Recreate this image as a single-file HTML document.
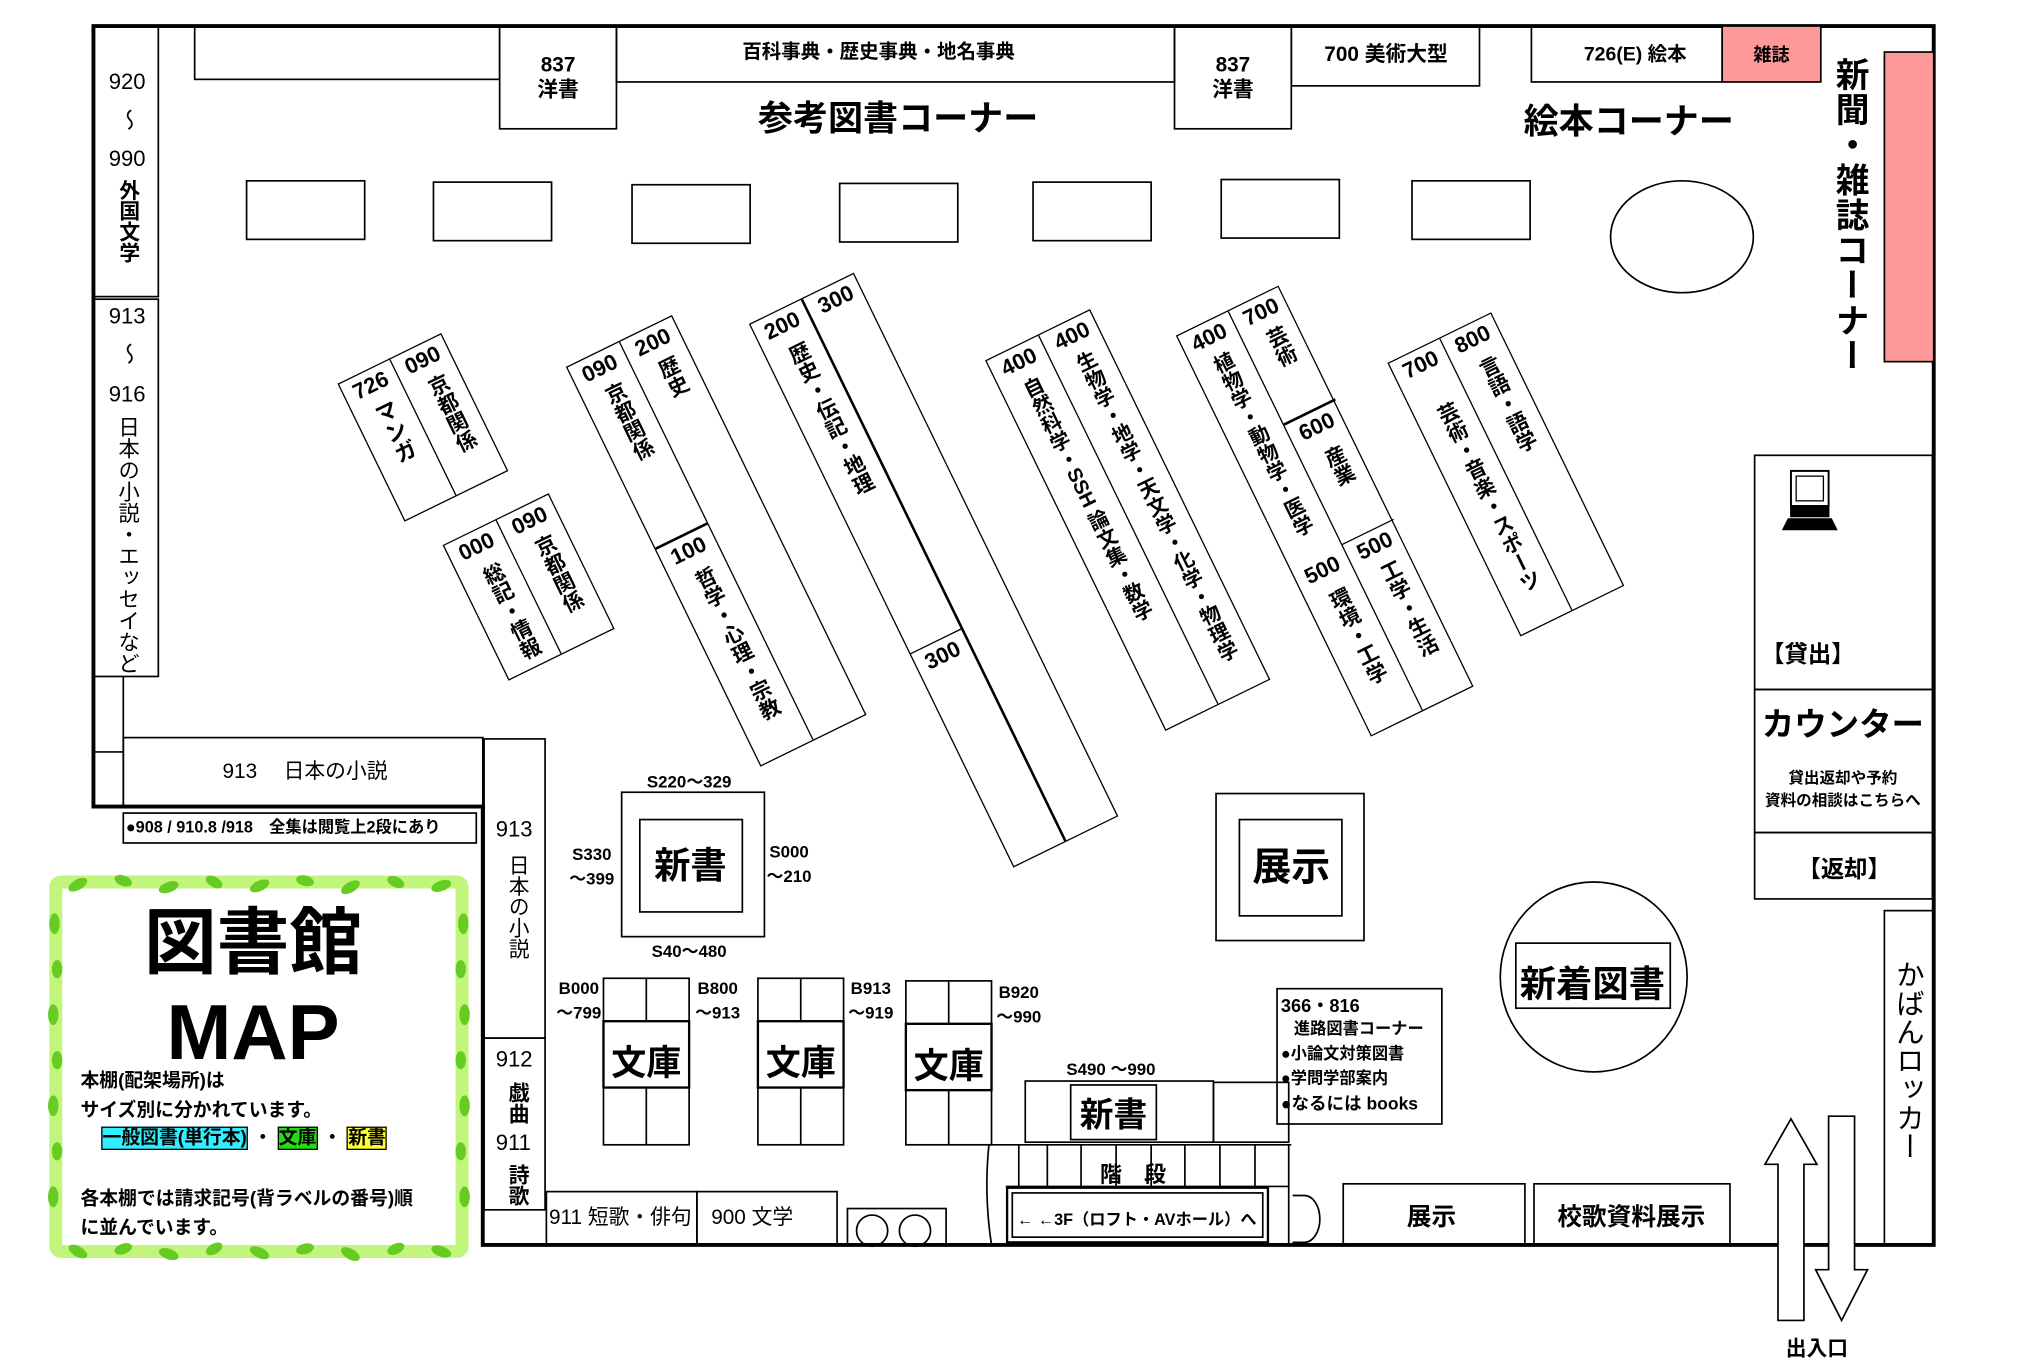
<!DOCTYPE html>
<html><head><meta charset="utf-8">
<style>
html,body{margin:0;padding:0;background:#fff;width:2034px;height:1361px;overflow:hidden}
#c{position:absolute;left:0;top:0;width:1568px;height:1047px;transform:scale(1.2978,1.3009);transform-origin:0 0;font-family:"Liberation Sans","Noto Sans CJK JP",sans-serif;color:#000}
.t{position:absolute;white-space:nowrap;font-weight:bold;line-height:1}
.c{transform:translate(-50%,-50%)}
.v{writing-mode:vertical-rl}
.sh{position:absolute;transform-origin:0 0;transform:rotate(-26deg);border:1.3px solid #000;box-sizing:border-box;background:#fff}
.col{position:absolute;top:0;height:100%;box-sizing:border-box}
.num{position:absolute;top:3px;left:0;width:100%;text-align:center;font-size:17px;font-weight:bold;line-height:1}
.vt{position:absolute;left:50%;transform:translateX(-50%);writing-mode:vertical-rl;font-size:16px;font-weight:bold;line-height:1;white-space:nowrap}
svg{position:absolute;left:0;top:0}
</style></head><body>
<div id="c">
<svg width="1560" height="1044" viewBox="0 0 1560 1044">
<g fill="none" stroke="#000" stroke-width="1.3">
<rect x="43" y="678" width="313" height="284" stroke="#c2f57c" stroke-width="10" rx="4"/>
</g>
<g fill="#66cc22">
<ellipse cx="60" cy="680" rx="8" ry="4" transform="rotate(-30 60 680)"/><ellipse cx="95" cy="677" rx="7" ry="4" transform="rotate(20 95 677)"/><ellipse cx="130" cy="682" rx="8" ry="4" transform="rotate(-20 130 682)"/><ellipse cx="165" cy="678" rx="7" ry="4" transform="rotate(30 165 678)"/><ellipse cx="200" cy="681" rx="8" ry="4" transform="rotate(-25 200 681)"/><ellipse cx="235" cy="677" rx="7" ry="4" transform="rotate(15 235 677)"/><ellipse cx="270" cy="682" rx="8" ry="4" transform="rotate(-30 270 682)"/><ellipse cx="305" cy="678" rx="7" ry="4" transform="rotate(25 305 678)"/><ellipse cx="340" cy="681" rx="8" ry="4" transform="rotate(-20 340 681)"/>
<ellipse cx="60" cy="962" rx="8" ry="4" transform="rotate(30 60 962)"/><ellipse cx="95" cy="960" rx="7" ry="4" transform="rotate(-20 95 960)"/><ellipse cx="130" cy="964" rx="8" ry="4" transform="rotate(20 130 964)"/><ellipse cx="165" cy="960" rx="7" ry="4" transform="rotate(-30 165 960)"/><ellipse cx="200" cy="963" rx="8" ry="4" transform="rotate(25 200 963)"/><ellipse cx="235" cy="960" rx="7" ry="4" transform="rotate(-15 235 960)"/><ellipse cx="270" cy="964" rx="8" ry="4" transform="rotate(30 270 964)"/><ellipse cx="305" cy="960" rx="7" ry="4" transform="rotate(-25 305 960)"/><ellipse cx="340" cy="962" rx="8" ry="4" transform="rotate(20 340 962)"/>
<ellipse cx="42" cy="710" rx="4" ry="8"/><ellipse cx="44" cy="745" rx="4" ry="7"/><ellipse cx="41" cy="780" rx="4" ry="8"/><ellipse cx="44" cy="815" rx="4" ry="7"/><ellipse cx="41" cy="850" rx="4" ry="8"/><ellipse cx="44" cy="885" rx="4" ry="7"/><ellipse cx="41" cy="920" rx="4" ry="8"/>
<ellipse cx="357" cy="710" rx="4" ry="8"/><ellipse cx="355" cy="745" rx="4" ry="7"/><ellipse cx="358" cy="780" rx="4" ry="8"/><ellipse cx="355" cy="815" rx="4" ry="7"/><ellipse cx="358" cy="850" rx="4" ry="8"/><ellipse cx="355" cy="885" rx="4" ry="7"/><ellipse cx="358" cy="920" rx="4" ry="8"/>
</g>
<g fill="none" stroke="#000" stroke-width="1.3">
<path d="M72,20 H1490 V957 H372 V620 H72 Z" stroke-width="3"/>
<rect x="72" y="20" width="50" height="208"/>
<rect x="72" y="230" width="50" height="290"/>
<line x1="95" y1="520" x2="95" y2="620"/>
<line x1="72" y1="578" x2="95" y2="578"/>
<rect x="95" y="567" width="277" height="53"/>
<rect x="95" y="625" width="272" height="23"/>
<rect x="373" y="568" width="47" height="230"/>
<rect x="373" y="798" width="47" height="132"/>
<rect x="421" y="916" width="116" height="41"/>
<rect x="537" y="916" width="108" height="41"/>
<rect x="653" y="929" width="76" height="28"/>
<circle cx="672" cy="946" r="12"/><circle cx="705" cy="946" r="12"/>
<rect x="150" y="20" width="235" height="41"/>
<rect x="385" y="20" width="90" height="79"/>
<rect x="475" y="20" width="430" height="43"/>
<rect x="905" y="20" width="90" height="79"/>
<rect x="995" y="20" width="145" height="46"/>
<rect x="1180" y="20" width="147" height="43"/>
<rect x="1327" y="20" width="76" height="43" fill="#ff9999"/>
<rect x="1452" y="40" width="38" height="238" fill="#ff9999"/>
<rect x="190" y="139" width="91" height="45"/>
<rect x="334" y="140" width="91" height="45"/>
<rect x="487" y="142" width="91" height="45"/>
<rect x="647" y="141" width="91" height="45"/>
<rect x="796" y="140" width="91" height="45"/>
<rect x="941" y="138" width="91" height="45"/>
<rect x="1088" y="139" width="91" height="45"/>
<ellipse cx="1296" cy="182" rx="55" ry="43"/>
<rect x="1352" y="350" width="137" height="180"/>
<rect x="1352" y="530" width="137" height="110"/>
<rect x="1352" y="640" width="137" height="51"/>
<rect x="1452" y="700" width="38" height="257"/>
<rect x="1380" y="362" width="29" height="27" stroke-width="1.5"/>
<rect x="1384" y="366" width="21" height="19" stroke-width="1"/>
<rect x="1380" y="389" width="29" height="8" fill="#000"/>
<path d="M1378,399 H1411 L1415,407 H1374 Z" fill="#000"/>
<ellipse cx="1228" cy="751" rx="72" ry="73"/>
<rect x="1168" y="725" width="119" height="50"/>
<rect x="937" y="610" width="114" height="113"/>
<rect x="955" y="630" width="79" height="74"/>
<rect x="984" y="760" width="127" height="104"/>
<rect x="479" y="609" width="110" height="111"/>
<rect x="493" y="630" width="79" height="71"/>
<rect x="465" y="752" width="66" height="128"/><line x1="498" y1="752" x2="498" y2="785"/><line x1="498" y1="836" x2="498" y2="880"/><rect x="465" y="785" width="66" height="51" stroke-width="1.8"/>
<rect x="584" y="752" width="66" height="128"/><line x1="617" y1="752" x2="617" y2="785"/><line x1="617" y1="836" x2="617" y2="880"/><rect x="584" y="785" width="66" height="51" stroke-width="1.8"/>
<rect x="698" y="754" width="66" height="126"/><line x1="731" y1="754" x2="731" y2="787"/><line x1="731" y1="838" x2="731" y2="880"/><rect x="698" y="787" width="66" height="51" stroke-width="1.8"/>
<rect x="790" y="831" width="145" height="47"/>
<rect x="825" y="834" width="66" height="42"/>
<rect x="935" y="832" width="58" height="46"/>
<path d="M760,880 H995"/>
<path d="M762,880 Q758,918 764,957"/>
<line x1="785" y1="880" x2="785" y2="912"/><line x1="807" y1="880" x2="807" y2="912"/><line x1="833" y1="880" x2="833" y2="912"/><line x1="860" y1="880" x2="860" y2="912"/><line x1="887" y1="880" x2="887" y2="912"/><line x1="913" y1="880" x2="913" y2="912"/><line x1="940" y1="880" x2="940" y2="912"/><line x1="967" y1="880" x2="967" y2="912"/><line x1="993" y1="880" x2="993" y2="957"/>
<line x1="775" y1="912" x2="993" y2="912"/>
<rect x="776" y="913" width="201" height="42" stroke-width="1.8"/>
<rect x="780" y="917" width="193" height="34"/>
<path d="M996,919 H1005 A12,18 0 0 1 1005,955 H996"/>
<rect x="1035" y="910" width="140" height="47"/>
<rect x="1182" y="910" width="151" height="47"/>
<path d="M1370,1015 V895 H1360 L1380,860 L1400,895 H1390 V1015 Z" fill="#fff"/>
<path d="M1409,858 H1429 V976 H1439 L1419,1015 L1399,976 H1409 Z" fill="#fff"/>
</g>
</svg>

<div class="t c" style="left:430px;top:60px;font-size:16px;line-height:19px;text-align:center">837<br>洋書</div>
<div class="t c" style="left:950px;top:60px;font-size:16px;line-height:19px;text-align:center">837<br>洋書</div>
<div class="t c" style="left:677px;top:40px;font-size:15px">百科事典・歴史事典・地名事典</div>
<div class="t c" style="left:1068px;top:43px;font-size:16px">700 美術大型</div>
<div class="t c" style="left:1260px;top:42px;font-size:15px">726(E) 絵本</div>
<div class="t c" style="left:1365px;top:42px;font-size:14px">雑誌</div>
<div class="t c" style="left:692px;top:92px;font-size:27px">参考図書コーナー</div>
<div class="t c" style="left:1255px;top:94px;font-size:27px">絵本コーナー</div>
<div class="t v" style="left:1413px;top:44px;font-size:26px;letter-spacing:1px">新聞・雑誌コーナー</div>

<div class="t c" style="left:98px;top:63px;font-size:17px;font-weight:normal">920</div>
<div class="t c v" style="left:98px;top:92px;font-size:17px;font-weight:normal">～</div>
<div class="t c" style="left:98px;top:122px;font-size:17px;font-weight:normal">990</div>
<div class="t v" style="left:89px;top:138px;font-size:16px;line-height:1">外国文学</div>
<div class="t c" style="left:98px;top:243px;font-size:17px;font-weight:normal">913</div>
<div class="t c v" style="left:98px;top:272px;font-size:17px;font-weight:normal">～</div>
<div class="t c" style="left:98px;top:303px;font-size:17px;font-weight:normal">916</div>
<div class="t v" style="left:89px;top:320px;font-size:16.5px;font-weight:normal">日本の小説・エッセイなど</div>
<div class="t c" style="left:235px;top:594px;font-size:16px;font-weight:normal">913　 日本の小説</div>
<div class="t" style="left:97px;top:630px;font-size:12.5px">●908 / 910.8 /918　全集は閲覧上2段にあり</div>
<div class="t" style="left:382px;top:629px;font-size:17px;font-weight:normal">913</div>
<div class="t v" style="left:389px;top:657px;font-size:16px;font-weight:normal">日本の小説</div>
<div class="t" style="left:382px;top:806px;font-size:17px;font-weight:normal">912</div>
<div class="t v" style="left:389px;top:832px;font-size:16px">戯曲</div>
<div class="t" style="left:382px;top:870px;font-size:17px;font-weight:normal">911</div>
<div class="t v" style="left:389px;top:895px;font-size:16px">詩歌</div>
<div class="t" style="left:423px;top:929px;font-size:16px;font-weight:normal">911 短歌・俳句</div>
<div class="t" style="left:548px;top:929px;font-size:16px;font-weight:normal">900 文学</div>

<div class="t c" style="left:195px;top:725px;font-size:56px">図書館</div>
<div class="t c" style="left:195px;top:794px;font-size:60px">MAP</div>
<div class="t" style="left:62px;top:824px;font-size:14.5px">本棚(配架場所)は</div>
<div class="t" style="left:62px;top:847px;font-size:14.5px">サイズ別に分かれています。</div>
<div class="t" style="left:78px;top:868px;font-size:14.5px"><span style="background:#33eeff;border:1px solid #000">一般図書(単行本)</span> ・ <span style="background:#22dd11;border:1px solid #000">文庫</span> ・ <span style="background:#ffff33;border:1px solid #000">新書</span></div>
<div class="t" style="left:62px;top:915px;font-size:14.5px">各本棚では請求記号(背ラベルの番号)順</div>
<div class="t" style="left:62px;top:937px;font-size:14.5px">に並んでいます。</div>

<div class="t c" style="left:531px;top:601px;font-size:13px">S220～329</div>
<div class="t c" style="left:456px;top:666px;font-size:13px;line-height:19px;text-align:center">S330<br>～399</div>
<div class="t c" style="left:608px;top:664px;font-size:13px;line-height:19px;text-align:center">S000<br>～210</div>
<div class="t c" style="left:531px;top:731px;font-size:13px">S40～480</div>
<div class="t c" style="left:532px;top:666px;font-size:28px">新書</div>
<div class="t c" style="left:446px;top:769px;font-size:13px;line-height:19px;text-align:center">B000<br>～799</div>
<div class="t c" style="left:553px;top:769px;font-size:13px;line-height:19px;text-align:center">B800<br>～913</div>
<div class="t c" style="left:671px;top:769px;font-size:13px;line-height:19px;text-align:center">B913<br>～919</div>
<div class="t c" style="left:785px;top:772px;font-size:13px;line-height:19px;text-align:center">B920<br>～990</div>
<div class="t c" style="left:498px;top:818px;font-size:27px">文庫</div>
<div class="t c" style="left:617px;top:818px;font-size:27px">文庫</div>
<div class="t c" style="left:731px;top:820px;font-size:27px">文庫</div>
<div class="t c" style="left:856px;top:822px;font-size:13px">S490 ～990</div>
<div class="t c" style="left:858px;top:857px;font-size:26px">新書</div>
<div class="t c" style="left:873px;top:903px;font-size:17px">階　段</div>
<div class="t c" style="left:876px;top:938px;font-size:12.5px">← ←3F（ロフト・AVホール）へ</div>
<div class="t c" style="left:1103px;top:936px;font-size:19px">展示</div>
<div class="t c" style="left:1257px;top:936px;font-size:19px">校歌資料展示</div>
<div class="t c" style="left:995px;top:668px;font-size:30px">展示</div>
<div class="t c" style="left:1227px;top:757px;font-size:28px">新着図書</div>
<div class="t" style="left:987px;top:766px;font-size:14px">366・816</div>
<div class="t" style="left:997px;top:785px;font-size:12.5px">進路図書コーナー</div>
<div class="t" style="left:987px;top:804px;font-size:12.5px">●小論文対策図書</div>
<div class="t" style="left:987px;top:823px;font-size:12.5px">●学問学部案内</div>
<div class="t" style="left:987px;top:842px;font-size:13.5px">●なるには books</div>
<div class="t c" style="left:1393px;top:503px;font-size:18px">【貸出】</div>
<div class="t c" style="left:1420px;top:558px;font-size:25px">カウンター</div>
<div class="t c" style="left:1420px;top:598px;font-size:12px">貸出返却や予約</div>
<div class="t c" style="left:1420px;top:615px;font-size:12px">資料の相談はこちらへ</div>
<div class="t c" style="left:1421px;top:668px;font-size:18px">【返却】</div>
<div class="t v" style="left:1459px;top:738px;font-size:22px;font-weight:normal">かばんロッカー</div>
<div class="t c" style="left:1400px;top:1038px;font-size:16px">出入口</div>

<div class="sh" style="left:260px;top:295px;width:89px;height:118px">
 <div class="col" style="left:0;width:44px;border-right:1.3px solid #000"><div class="num">726</div><div class="vt" style="top:26px;font-size:17px">マンガ</div></div>
 <div class="col" style="left:44px;width:44px"><div class="num">090</div><div class="vt" style="top:26px">京都関係</div></div>
</div>
<div class="sh" style="left:341px;top:419px;width:91px;height:116px">
 <div class="col" style="left:0;width:45px;border-right:1.3px solid #000"><div class="num">000</div><div class="vt" style="top:28px">総記・情報</div></div>
 <div class="col" style="left:45px;width:45px"><div class="num">090</div><div class="vt" style="top:26px">京都関係</div></div>
</div>
<div class="sh" style="left:436px;top:282px;width:91px;height:342px">
 <div class="col" style="left:0;width:45px;border-right:1.3px solid #000">
  <div style="position:absolute;left:0;top:0;width:100%;height:156px;border-bottom:2.5px double #000;box-sizing:border-box"><div class="num">090</div><div class="vt" style="top:26px">京都関係</div></div>
  <div style="position:absolute;left:0;top:156px;width:100%;height:186px"><div class="num">100</div><div class="vt" style="top:28px">哲学・心理・宗教</div></div>
 </div>
 <div class="col" style="left:45px;width:45px"><div class="num">200</div><div class="vt" style="top:26px">歴史</div></div>
</div>
<div class="sh" style="left:577px;top:249px;width:90px;height:465px">
 <div class="col" style="left:0;width:45px;border-right:2.2px solid #000">
  <div style="position:absolute;left:0;top:0;width:100%;height:282px;border-bottom:1.3px solid #000;box-sizing:border-box"><div class="num">200</div><div class="vt" style="top:28px">歴史・伝記・地理</div></div>
  <div style="position:absolute;left:0;top:282px;width:100%"><div class="num">300</div></div>
 </div>
 <div class="col" style="left:45px;width:45px"><div class="num">300</div></div>
</div>
<div class="sh" style="left:759px;top:277px;width:90px;height:317px">
 <div class="col" style="left:0;width:45px;border-right:1.3px solid #000"><div class="num">400</div><div class="vt" style="top:26px;font-size:15.5px">自然科学・SSH 論文集・数学</div></div>
 <div class="col" style="left:45px;width:45px"><div class="num">400</div><div class="vt" style="top:26px;font-size:15.5px">生物学・地学・天文学・化学・物理学</div></div>
</div>
<div class="sh" style="left:906px;top:258px;width:88px;height:343px">
 <div class="col" style="left:0;width:44px;border-right:1.3px solid #000"><div class="num">400</div><div class="vt" style="top:26px;font-size:15.5px">植物学・動物学・医学</div>
  <div class="num" style="top:202px">500</div><div class="vt" style="top:228px">環境・工学</div></div>
 <div class="col" style="left:44px;width:44px">
  <div style="position:absolute;left:0;top:0;width:100%;height:98px;border-bottom:2.5px double #000;box-sizing:border-box"><div class="num">700</div><div class="vt" style="top:26px">芸術</div></div>
  <div style="position:absolute;left:0;top:98px;width:100%;height:102px;border-bottom:1.3px solid #000;box-sizing:border-box"><div class="num">600</div><div class="vt" style="top:30px">産業</div></div>
  <div style="position:absolute;left:0;top:200px;width:100%;height:143px"><div class="num">500</div><div class="vt" style="top:26px">工学・生活</div></div>
 </div>
</div>
<div class="sh" style="left:1069px;top:279px;width:89px;height:234px">
 <div class="col" style="left:0;width:44px;border-right:1.3px solid #000"><div class="num">700</div><div class="vt" style="top:46px">芸術・音楽・スポーツ</div></div>
 <div class="col" style="left:44px;width:44px"><div class="num">800</div><div class="vt" style="top:28px">言語・語学</div></div>
</div>
</div>
</body></html>
